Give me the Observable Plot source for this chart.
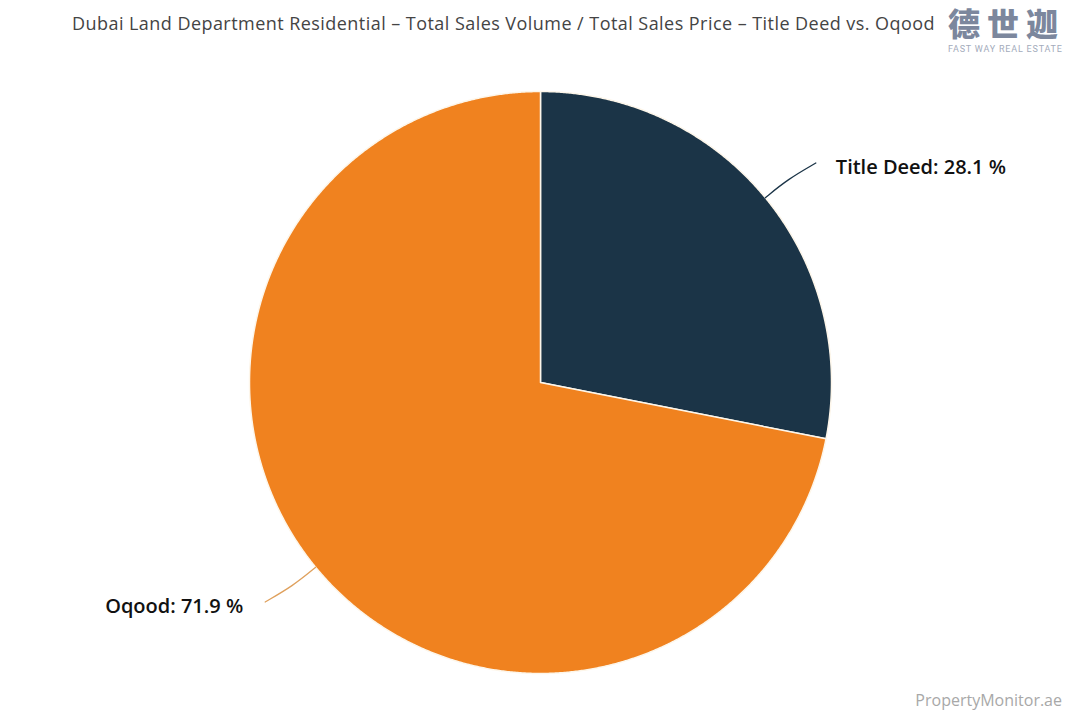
<!DOCTYPE html>
<html>
<head>
<meta charset="utf-8">
<script src="https://cdn.jsdelivr.net/npm/d3@7"></script>
<script src="https://cdn.jsdelivr.net/npm/@observablehq/plot@0.6"></script>
<style>
  html, body { margin: 0; padding: 0; background: #fff; }
  #page { position: relative; width: 1080px; height: 720px; overflow: hidden; }
  #header { position: relative; height: 60px; }
  #title { position: absolute; left: 72px; top: 11px; font-family: "Open Sans", sans-serif; font-size: 18px; line-height: 24px; color: #444; white-space: nowrap; }
  #logo { position: absolute; left: 948px; top: 6px; height: 32px; font-family: "Noto Sans CJK SC", sans-serif; font-weight: 900; font-size: 32px; color: #7c879d; letter-spacing: 7px; line-height: 32px; white-space: nowrap; }
  #logo-sub { position: absolute; left: 948px; top: 44px; height: 10px; font-family: "Roboto", sans-serif; font-size: 9px; line-height: 10px; color: #a3abbb; letter-spacing: 0.8px; white-space: nowrap; }
  #footer { position: relative; height: 40px; }
  #caption { position: absolute; right: 18px; top: 9px; font-family: "Open Sans", sans-serif; font-size: 16px; color: #a8a8a8; }
  #chart svg { display: block; }
</style>
</head>
<body>
<div id="page">
  <div id="header">
    <div id="title">Dubai Land Department Residential – Total Sales Volume / Total Sales Price – Title Deed vs. Oqood</div>
    <div id="logo">德世迦</div>
    <div id="logo-sub">FAST WAY REAL ESTATE</div>
  </div>
  <div id="chart"></div>
  <div id="footer"><div id="caption">PropertyMonitor.ae</div></div>
</div>
<script>
// ---- data ----
const categories = ["Title Deed", "Oqood"];
const shares = [28.1, 71.9];
const sliceColors = ["#1b3447", "#f0821f"];
const connectorColors = ["#1b3447", "#dfa05c"];

// ---- layout ----
const W = 1080, H = 620, R = 291, CX = 540, CY = 322;

const arcs = d3.pie().sort(null)(shares);

const slicePts = [];
arcs.forEach((p, i) => {
  const name = categories[i];
  const n = Math.ceil((p.endAngle - p.startAngle) / 0.005);
  slicePts.push({name, x: 0, y: 0});
  for (let k = 0; k <= n; k++) {
    const a = p.startAngle + (p.endAngle - p.startAngle) * k / n;
    slicePts.push({name, x: Math.sin(a), y: Math.cos(a)});
  }
  slicePts.push({name, x: 0, y: 0});
});

const connPts = [];
const labels = [];
arcs.forEach((p, i) => {
  const name = categories[i];
  const m = (p.startAngle + p.endAngle) / 2;
  const me = m + 0.015;
  [[1, m], [1.1, m], [1.21, me]].forEach(([r, a]) =>
    connPts.push({name, x: r * Math.sin(a), y: r * Math.cos(a)}));
  labels.push({
    name,
    text: `${name}: ${shares[i]} %`,
    x: 1.21 * Math.sin(me),
    y: 1.21 * Math.cos(me),
    right: Math.sin(me) > 0
  });
});

const colorScale = {domain: categories, range: sliceColors};

const chart = Plot.plot({
  width: W,
  height: H,
  margin: 0,
  x: {domain: [-CX / R, (W - CX) / R], axis: null},
  y: {domain: [-(H - CY) / R, CY / R], axis: null},
  color: colorScale,
  style: {background: "#fff"},
  marks: [
    Plot.line(slicePts, {x: "x", y: "y", z: "name", fill: "name", stroke: "#fdf6ea", strokeWidth: 1.5, curve: "linear"}),
    Plot.line(connPts.filter(d => d.name === categories[0]), {x: "x", y: "y", stroke: connectorColors[0], strokeWidth: 1.3, curve: "basis"}),
    Plot.line(connPts.filter(d => d.name === categories[1]), {x: "x", y: "y", stroke: connectorColors[1], strokeWidth: 1.3, curve: "basis"}),
    Plot.text(labels.filter(d => d.right), {x: "x", y: "y", text: "text", textAnchor: "start", dx: 20, dy: 5, fontSize: 20, fontWeight: 600, fill: "#111", fontFamily: "Open Sans"}),
    Plot.text(labels.filter(d => !d.right), {x: "x", y: "y", text: "text", textAnchor: "end", dx: -22, dy: 5, fontSize: 20, fontWeight: 600, fill: "#111", fontFamily: "Open Sans"})
  ]
});
document.getElementById("chart").appendChild(chart);

// fit title to the reference width using letter spacing
const t = document.getElementById("title");
const w = t.getBoundingClientRect().width;
const nChars = t.textContent.length;
t.style.letterSpacing = `${(863 - w) / nChars}px`;
</script>
</body>
</html>
